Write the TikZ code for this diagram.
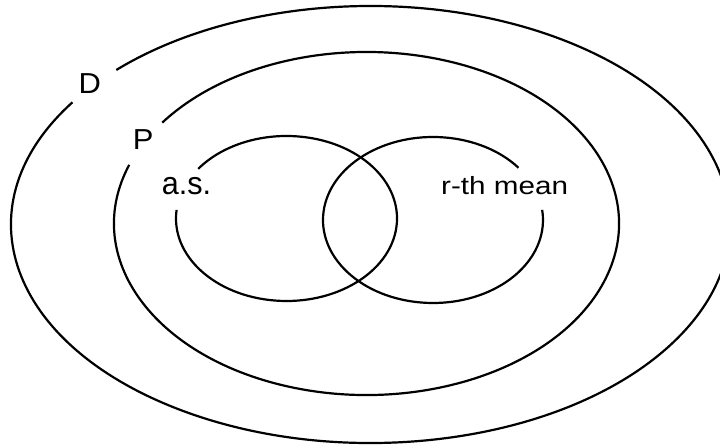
\documentclass[tikz,border=0pt]{standalone}
\usepackage{fontspec}
\newfontfamily\labfontA[FakeStretch=1.07]{Liberation Sans}
\newfontfamily\labfontB[FakeStretch=0.96]{Liberation Sans}
\newfontfamily\labfontC[FakeStretch=1.19]{Liberation Sans}
\begin{document}
\begin{tikzpicture}[x=1bp,y=1bp,
  ring/.style={line width=2.2bp,black},
  lab/.style={inner sep=0pt,anchor=base west},
  labbig/.style={lab,font=\labfontA\fontsize{29}{34}\selectfont},
  labas/.style={lab,font=\labfontB\fontsize{32}{38}\selectfont},
  labrth/.style={lab,font=\labfontC\fontsize{25}{30}\selectfont}]
\useasboundingbox (0,0) rectangle (720,448);
% centres
\coordinate (cD) at (370.5,223.5);
\coordinate (cP) at (366.5,224.5);
\coordinate (cA) at (286.5,229.5);
\coordinate (cR) at (433,228);
% outer set D
\draw[ring] (cD) ++(146:359.5bp and 218.5bp) arc[start angle=146,end angle=495,x radius=359.5bp,y radius=218.5bp];
% set P
\draw[ring] (cP) ++(160:252.5bp and 171.5bp) arc[start angle=160,end angle=504,x radius=252.5bp,y radius=171.5bp];
% a.s.
\draw[ring] (cA) ++(174:110.5bp and 82.5bp) arc[start angle=174,end angle=503,x radius=110.5bp,y radius=82.5bp];
% r-th mean
\draw[ring] (cR) ++(39:110bp and 83bp) arc[start angle=39,end angle=367,x radius=110bp,y radius=83bp];
% labels
\node[labbig] (lD) at (78.3,354.7) {D};
\node[labbig] (lP) at (132.6,298) {P};
\node[labas] (lA) at (161.6,253) {a.s.};
\node[labrth] (lR) at (441,253) {r-th mean};
\end{tikzpicture}
\end{document}
